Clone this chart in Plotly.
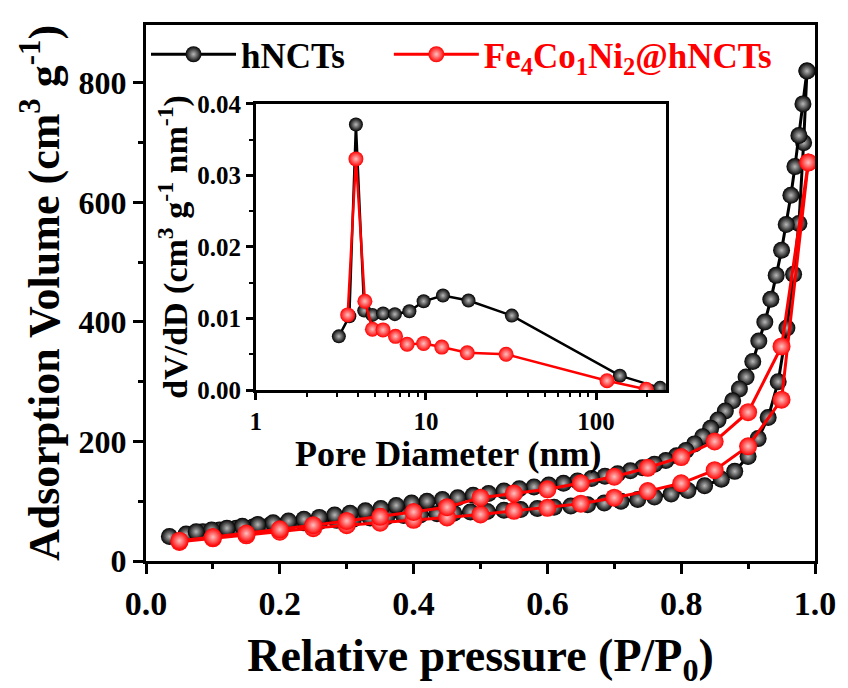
import plotly.graph_objects as go

# ---------------- main isotherm data ----------------
# hNCTs adsorption branch
h_ads_p = [0.035, 0.06, 0.085, 0.11, 0.135, 0.16, 0.185, 0.21, 0.235, 0.26, 0.285, 0.31,
           0.335, 0.36, 0.385, 0.41, 0.435, 0.46, 0.485, 0.51, 0.535, 0.56, 0.585, 0.61,
           0.635, 0.66, 0.685, 0.71, 0.735, 0.76, 0.785, 0.81, 0.835, 0.86, 0.88, 0.90,
           0.915, 0.93, 0.945, 0.958, 0.968, 0.976, 0.983, 0.988]
h_ads_v = [41, 45, 49, 52, 55, 57, 60, 62, 64, 66, 68, 70,
           72, 74, 76, 77, 79, 80, 82, 83, 85, 86, 88, 90,
           92, 94, 97, 100, 103, 107, 112, 118, 126, 137, 150, 175,
           205, 240, 300, 390, 480, 565, 700, 820]
# hNCTs desorption branch
h_des_p = [0.988, 0.982, 0.976, 0.970, 0.964, 0.957, 0.950, 0.942, 0.934, 0.925, 0.916,
           0.907, 0.897, 0.887, 0.877, 0.866, 0.855, 0.844, 0.832, 0.82, 0.807, 0.793,
           0.777, 0.76, 0.742, 0.724, 0.705, 0.686, 0.666, 0.645, 0.624, 0.602, 0.58,
           0.558, 0.535, 0.512, 0.489, 0.466, 0.443, 0.42, 0.397, 0.374, 0.351, 0.328,
           0.305, 0.282, 0.259, 0.236, 0.213, 0.19, 0.167, 0.144, 0.121, 0.098, 0.075]
h_des_v = [820, 765, 712, 660, 612, 563, 520, 478, 438, 400, 368,
           334, 308, 288, 268, 251, 236, 222, 208, 196, 185, 176,
           168, 162, 156, 151, 146, 142, 138, 134, 130, 127, 124,
           121, 117, 113, 110, 106, 103, 100, 97, 93, 88, 84,
           80, 77, 73, 70, 67, 64, 61, 58, 55, 52, 49]

# Fe4Co1Ni2@hNCTs adsorption branch
f_ads_p = [0.05, 0.10, 0.15, 0.20, 0.25, 0.30, 0.35, 0.40, 0.45, 0.50, 0.55, 0.60,
           0.65, 0.70, 0.75, 0.80, 0.85, 0.90, 0.95, 0.99]
f_ads_v = [32, 38, 43, 49, 55, 60, 64, 69, 73, 78, 84, 89,
           96, 106, 117, 130, 152, 192, 270, 667]
# Fe4Co1Ni2@hNCTs desorption branch
f_des_p = [0.99, 0.95, 0.90, 0.85, 0.80, 0.75, 0.70, 0.65, 0.60, 0.55, 0.50, 0.45,
           0.40, 0.35, 0.30, 0.25, 0.20, 0.15, 0.10, 0.05]
f_des_v = [667, 359, 249, 200, 174, 156, 141, 130, 120, 113, 106, 90,
           82, 74, 67, 60, 53, 46, 40, 34]

# ---------------- inset pore-size distribution ----------------
h_pd_d = [3.08, 3.55, 3.88, 4.34, 4.85, 5.6, 6.57, 8.0, 9.7, 12.6, 17.8, 32, 138, 238]
h_pd_v = [0.0075, 0.0103, 0.0371, 0.0111, 0.0105, 0.0107, 0.0106, 0.0110, 0.0124,
          0.0132, 0.0125, 0.0104, 0.0020, 0.0003]
f_pd_d = [3.47, 3.88, 4.38, 4.85, 5.6, 6.63, 7.76, 9.7, 12.4, 17.5, 29.6, 116, 197]
f_pd_v = [0.0105, 0.0323, 0.0124, 0.0085, 0.0084, 0.0075, 0.0064, 0.0065, 0.0060,
          0.0052, 0.0050, 0.0013, 0.0001]

x_ticks = [0.0, 0.2, 0.4, 0.6, 0.8, 1.0]
y_ticks = [0, 200, 400, 600, 800]
ix_ticks = [1, 10, 100]
ix_minor = [2, 3, 4, 5, 6, 7, 8, 9, 20, 30, 40, 50, 60, 70, 80, 90, 200]
iy_ticks = [0.00, 0.01, 0.02, 0.03, 0.04]

BLACK = "#000000"
RED = "#ff0000"
FONT = "Liberation Serif"


def bfont(size, color=BLACK):
    return dict(size=size, family=FONT, weight="bold", color=color)


black_marker = dict(color=BLACK, size=17, line=dict(width=0),
                    gradient=dict(type="radial", color="#b8b8b8"))
red_marker = dict(color=RED, size=18, line=dict(width=0),
                  gradient=dict(type="radial", color="#ffc0c0"))
black_marker_s = dict(black_marker, size=14)
red_marker_s = dict(red_marker, size=15)

fig = go.Figure()

fig.add_trace(go.Scatter(x=h_ads_p, y=h_ads_v, mode="lines+markers",
                         line=dict(color=BLACK, width=3), marker=black_marker,
                         name="hNCTs", legendgroup="h", legend="legend"))
fig.add_trace(go.Scatter(x=h_des_p, y=h_des_v, mode="lines+markers",
                         line=dict(color=BLACK, width=3), marker=black_marker,
                         name="hNCTs", legendgroup="h", showlegend=False))
fig.add_trace(go.Scatter(x=f_ads_p, y=f_ads_v, mode="lines+markers",
                         line=dict(color=RED, width=3), marker=red_marker,
                         name="Fe<sub>4</sub>Co<sub>1</sub>Ni<sub>2</sub>@hNCTs",
                         legendgroup="f", legend="legend2"))
fig.add_trace(go.Scatter(x=f_des_p, y=f_des_v, mode="lines+markers",
                         line=dict(color=RED, width=3), marker=red_marker,
                         name="Fe4Co1Ni2@hNCTs", legendgroup="f", showlegend=False))

# inset
fig.add_trace(go.Scatter(x=h_pd_d, y=h_pd_v, mode="lines+markers", xaxis="x2", yaxis="y2",
                         line=dict(color=BLACK, width=2.5), marker=black_marker_s,
                         showlegend=False))
fig.add_trace(go.Scatter(x=f_pd_d, y=f_pd_v, mode="lines+markers", xaxis="x2", yaxis="y2",
                         line=dict(color=RED, width=2.5), marker=red_marker_s,
                         showlegend=False))

axis_common = dict(showline=True, linecolor=BLACK, mirror=True, showgrid=False,
                   zeroline=False, ticks="outside", tickcolor=BLACK)

fig.update_layout(
    width=848, height=688,
    margin=dict(l=146, r=25, t=23, b=120),
    paper_bgcolor="white", plot_bgcolor="white",
    font=bfont(20),
    xaxis=dict(axis_common, range=[0, 1], tickvals=x_ticks, tickformat=".1f",
               linewidth=3, tickwidth=3, ticklen=10,
               minor=dict(ticks="outside", dtick=0.1, ticklen=5, tickwidth=3, tickcolor=BLACK),
               tickfont=bfont(34),
               title=dict(text="Relative pressure (P/P<sub>0</sub>)",
                          font=bfont(46), standoff=22)),
    yaxis=dict(axis_common, range=[0, 897], tickvals=y_ticks,
               linewidth=3, tickwidth=3, ticklen=10,
               minor=dict(ticks="outside", dtick=100, ticklen=5, tickwidth=3, tickcolor=BLACK),
               tickfont=bfont(32),
               title=dict(text="Adsorption Volume (cm<sup>3</sup> g<sup>-1</sup>)",
                          font=bfont(44), standoff=6)),
    xaxis2=dict(axis_common, type="log", range=[0, 2.41], tickvals=ix_ticks,
                domain=[0.164, 0.777], anchor="y2",
                linewidth=2.5, tickwidth=2.5, ticklen=7,
                minor=dict(ticks="outside", tickvals=ix_minor, ticklen=4, tickwidth=2, tickcolor=BLACK),
                tickfont=bfont(25)),
    yaxis2=dict(axis_common, range=[0, 0.04], tickvals=iy_ticks, tickformat=".2f",
                domain=[0.319, 0.853], anchor="x2",
                linewidth=2.5, tickwidth=2.5, ticklen=7,
                minor=dict(ticks="outside", dtick=0.005, ticklen=4, tickwidth=2, tickcolor=BLACK),
                tickfont=bfont(25),
                title=dict(text="dV/dD (cm<sup>3</sup> g<sup>-1</sup> nm<sup>-1</sup>)",
                           font=bfont(34), standoff=0)),
    legend=dict(orientation="h", x=0.0, y=1.0, xanchor="left", yanchor="top",
                bgcolor="rgba(0,0,0,0)", itemwidth=85,
                font=bfont(35)),
    legend2=dict(orientation="h", x=0.363, y=1.0, xanchor="left", yanchor="top",
                 bgcolor="rgba(0,0,0,0)", itemwidth=85,
                 font=bfont(35, RED)),
    annotations=[dict(text="Pore Diameter (nm)", xref="x2 domain", yref="paper",
                      x=0.47, y=0.199, xanchor="center", yanchor="middle",
                      showarrow=False, font=bfont(36))],
)

fig.write_html("out.html")
